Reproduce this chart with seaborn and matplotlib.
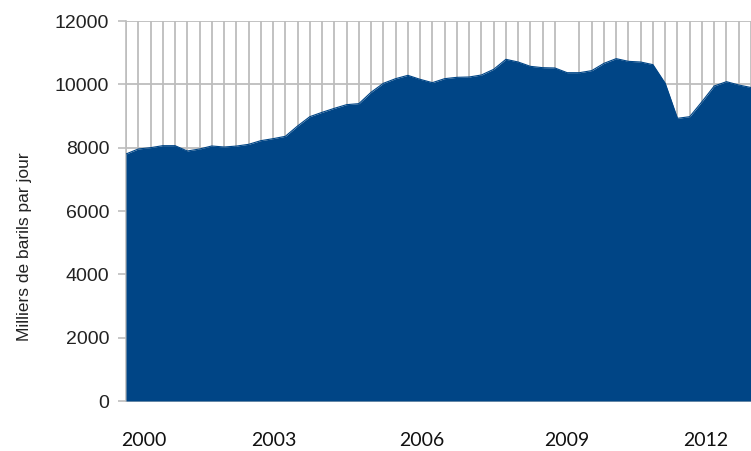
import numpy as np
import pandas as pd
import matplotlib
matplotlib.use("Agg")
import matplotlib.pyplot as plt
import seaborn as sns

# Quarterly production, thousands of barrels per day, 2000Q1 .. 2012Q4
quarters = [f"{y}T{q}" for y in range(2000, 2013) for q in range(1, 5)]
values = [7800, 7958, 8000, 8063, 8063, 7895, 7958, 8053, 8021, 8050,
          8105, 8221, 8284, 8358, 8684, 8979, 9116, 9242, 9358, 9390,
          9750, 10032, 10179, 10284, 10158, 10053, 10179, 10221, 10232, 10295,
          10474, 10790, 10705, 10568, 10526, 10516, 10368, 10368, 10432, 10663,
          10811, 10726, 10705, 10621, 10032, 8926, 8979, 9453, 9947, 10084,
          9979, 9900]
year_labels = ["2000", "2003", "2006", "2009", "2012"]
year_label_pos = [1.45, 12.1, 24.1, 36.0, 47.3]
y_ticks = [0, 2000, 4000, 6000, 8000, 10000, 12000]
y_label = "Milliers de barils par jour"

df = pd.DataFrame({"idx": np.arange(len(values)), "quarter": quarters, "value": values})

sns.set_theme(style="white")
plt.rcParams["font.family"] = ["Liberation Sans", "DejaVu Sans"]

W, H = 751, 451
fig = plt.figure(figsize=(W / 100, H / 100), dpi=100)
ax = fig.add_axes([126 / W, 1 - 401 / H, (751 - 126) / W, (401 - 21) / H])

blue = "#004586"
grid = "#bdbdbd"

sns.lineplot(data=df, x="idx", y="value", color=blue, linewidth=0.8, ax=ax, zorder=3)
ax.fill_between(df["idx"], 0, df["value"], color=blue, linewidth=0, zorder=3)

ax.set_xlim(0, (751 - 126) / 12.43)
ax.set_ylim(0, 12000)

ax.set_xticks(df["idx"], minor=True)
ax.set_xticks(year_label_pos)
ax.set_xticklabels(year_labels, family=["Lato", "DejaVu Sans"], fontsize=14, color="#111111")
ax.set_yticks(y_ticks)
ax.set_yticklabels([str(v) for v in y_ticks], fontsize=14, color="#222222")

ax.grid(False)
ax.grid(True, which="minor", axis="x", color=grid, linewidth=1.3, zorder=0)
ax.grid(True, which="major", axis="y", color=grid, linewidth=1.3, zorder=0)
ax.set_axisbelow(True)

ax.tick_params(axis="x", which="major", length=0, pad=22)
ax.tick_params(axis="x", which="minor", length=6, width=1.2, color=grid, direction="out")
ax.tick_params(axis="y", which="major", length=6, width=1.2, color=grid, direction="out", pad=6, left=True)

for s in ["top", "right"]:
    ax.spines[s].set_visible(False)
ax.spines["left"].set_color(grid)
ax.spines["bottom"].set_color(grid)
ax.spines["left"].set_linewidth(1.2)
ax.spines["bottom"].set_linewidth(1.2)

ax.set_xlabel("")
ax.set_ylabel(y_label, fontsize=12.5, color="#222222")
ax.yaxis.set_label_coords(-0.150, 0.405)

fig.savefig("out.png", dpi=100)
